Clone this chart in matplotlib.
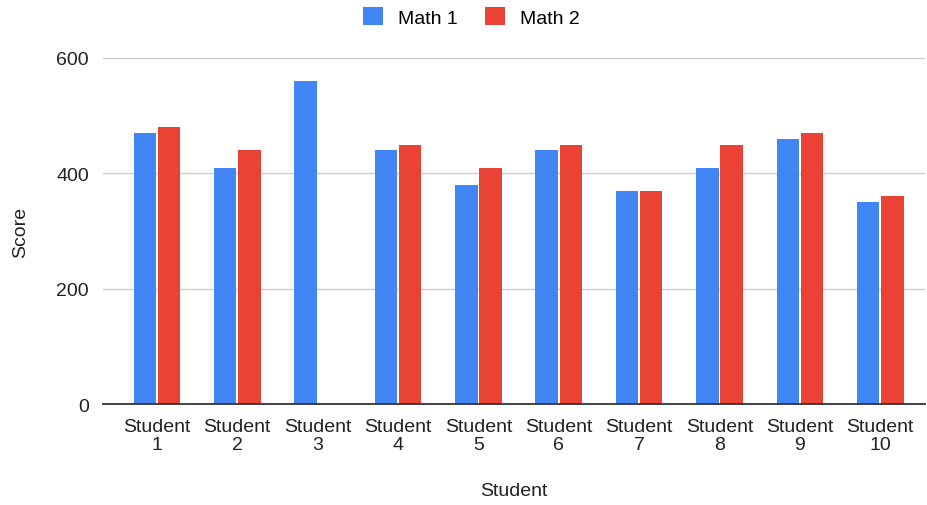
import numpy as np
import matplotlib.pyplot as plt

plt.rcParams['font.family'] = ['Liberation Sans', 'DejaVu Sans']

students = ['Student\n1', 'Student\n2', 'Student\n3', 'Student\n4', 'Student\n5',
            'Student\n6', 'Student\n7', 'Student\n8', 'Student\n9', 'Student\n10']
math1 = [470, 410, 560, 440, 380, 440, 370, 410, 460, 350]
math2 = [480, 440, 0, 450, 410, 450, 370, 450, 470, 360]

fig = plt.figure(figsize=(9.28, 5.06), dpi=100)
ax = fig.add_axes([0.111, 0.1996, 0.886, 0.6838])

x = np.arange(len(students))
w = 0.28
ax.bar(x - 0.15, math1, width=w, color='#4285F4', label='Math 1', zorder=3)
ax.bar(x + 0.15, math2, width=w, color='#EA4335', label='Math 2', zorder=3)

ax.set_xlim(-0.67, 9.56)
ax.set_ylim(0, 600)
ax.set_yticks([0, 200, 400, 600])
ax.set_xticks(x)
ax.set_xticklabels(students, linespacing=1.1)
ax.tick_params(axis='both', length=0, labelsize=14, colors='#222222')
ax.tick_params(axis='x', pad=10)
ax.tick_params(axis='y', pad=10)
ax.yaxis.grid(True, color='#cccccc', linewidth=1, zorder=0)
for s in ['top', 'right', 'left']:
    ax.spines[s].set_visible(False)
ax.spines['bottom'].set_color('#333333')
ax.spines['bottom'].set_linewidth(1.3)
ax.spines['bottom'].set_zorder(4)

ax.set_ylabel('Score', fontsize=14, color='#222222')
ax.yaxis.set_label_coords(-0.09, 0.5)
ax.set_xlabel('Student', fontsize=14, color='#222222')
ax.xaxis.set_label_coords(0.5, -0.225)

fig.legend(loc='upper center', bbox_to_anchor=(0.508, 1.018), ncol=2, frameon=False,
           fontsize=14, handlelength=1.05, handleheight=1.05, columnspacing=1.4,
           handletextpad=0.75)

plt.savefig('out.png')
